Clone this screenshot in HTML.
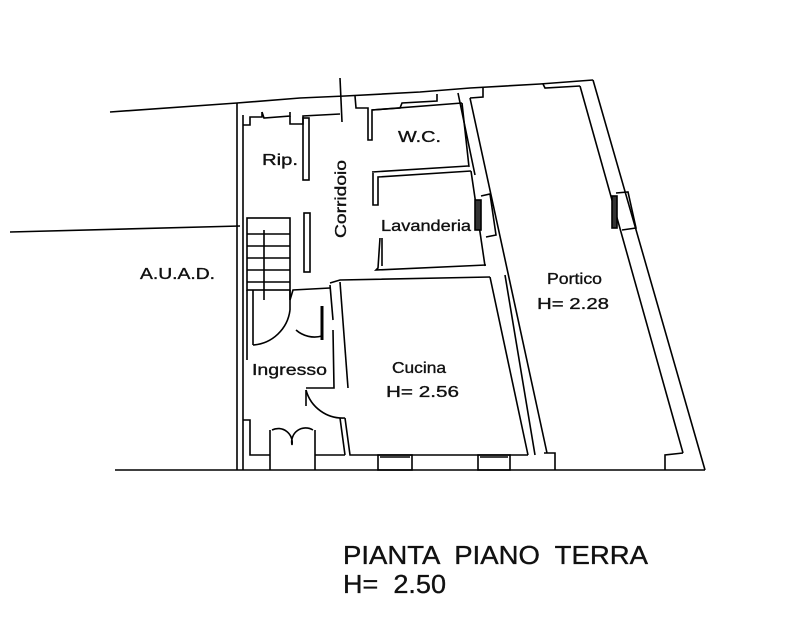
<!DOCTYPE html>
<html><head><meta charset="utf-8"><style>
html,body{margin:0;padding:0;background:#fff;}
svg{display:block;}
text{font-family:"Liberation Sans",Arial,sans-serif;fill:#111;stroke:#111;stroke-width:0.35;}
</style></head><body>
<svg width="811" height="632" viewBox="0 0 811 632" xmlns="http://www.w3.org/2000/svg">
<g fill="none" stroke="#000" stroke-width="1.6">
<line x1="110" y1="112" x2="237" y2="103"/>
<line x1="10" y1="232" x2="240" y2="226"/>
<line x1="115" y1="470" x2="705" y2="470"/>
<polyline points="237,103 300,98 345,96 420,92 470,88 540,84 593,80"/>
<line x1="340" y1="78" x2="342" y2="122"/>
<line x1="237" y1="103" x2="237" y2="470"/>
<line x1="243" y1="115" x2="243" y2="470"/>
<polyline points="243,125 250,125 250,117 262,117 262,112"/>
<polyline points="262,112 264,118 290,116 290,112"/>
<polyline points="290,116 290,124 303,124 303,116 340,114"/>
<rect x="303" y="118" width="6" height="62"/>
<rect x="304" y="213" width="6" height="59"/>
<polyline points="355,96 356,108 368,108 368,140 372,140 372,110 400,108 402,103 437,101 437,94"/>
<line x1="372" y1="110" x2="462" y2="103"/>
<line x1="462" y1="103" x2="469" y2="167"/>
<polyline points="372,172 468,166"/>
<polyline points="373,173 373,205 378,205 378,177 471,171"/>
<line x1="471" y1="171" x2="485" y2="266"/>
<polyline points="380,238 378,268 376,270 486,265"/>
<line x1="382" y1="238" x2="382" y2="266"/>
<rect x="475" y="200" width="6" height="30" fill="#333"/>
<polyline points="481,196 490,194 496,235 486,237"/>
<line x1="458" y1="93" x2="475" y2="175"/>
<line x1="470" y1="98" x2="547" y2="453"/>
<polyline points="470,98 483,97 483,88"/>
<polyline points="543,84 545,88 580,86"/>
<line x1="580" y1="86" x2="683" y2="453"/>
<line x1="593" y1="80" x2="705" y2="470"/>
<polyline points="544,453 555,453 555,470"/>
<polyline points="683,453 665,455 665,470"/>
<rect x="612" y="196" width="5" height="32" fill="#333"/>
<polyline points="616,193 628,192 636,228 622,230"/>
<line x1="490" y1="277" x2="528" y2="455"/>
<line x1="505" y1="275" x2="535" y2="455"/>
<polyline points="330,283 340,280 490,277"/>
<polyline points="340,282 348,388"/>
<polyline points="330,285 333,320"/>
<polyline points="333,330 334,388 306,388"/>
<line x1="306" y1="390" x2="306" y2="406"/>
<path d="M306,390 A38,38 0 0 0 345,418"/>
<polyline points="345,418 350,455 528,455"/>
<polyline points="340,418 345,455"/>
<rect x="378" y="455" width="34" height="15"/>
<line x1="380" y1="457" x2="410" y2="457"/>
<rect x="478" y="455" width="32" height="15"/>
<line x1="480" y1="457" x2="508" y2="457"/>
<rect x="247" y="218" width="43" height="72"/>
<line x1="247" y1="234" x2="290" y2="234"/>
<line x1="247" y1="246" x2="290" y2="246"/>
<line x1="247" y1="258" x2="290" y2="258"/>
<line x1="247" y1="270" x2="290" y2="270"/>
<line x1="247" y1="282" x2="290" y2="282"/>
<line x1="264" y1="230" x2="264" y2="300"/>
<line x1="247" y1="290" x2="247" y2="360"/>
<line x1="253" y1="290" x2="253" y2="345"/>
<path d="M253,345 A40,40 0 0 0 290,310"/>
<line x1="290" y1="290" x2="290" y2="310"/>
<polyline points="290,290 290,300 293,290 330,288"/>
<path d="M296,330 A28,28 0 0 0 322,336"/>
<line x1="322" y1="306" x2="322" y2="340" stroke-width="3"/>
<polyline points="243,420 250,420 250,455 270,455"/>
<polyline points="270,430 270,470"/>
<polyline points="315,430 315,470"/>
<path d="M272,430 A14,14 0 0 1 292,445 A14,14 0 0 1 313,430"/>
<polyline points="315,455 345,455"/>
</g>
<g font-size="16">
<text x="262" y="165" textLength="36" lengthAdjust="spacingAndGlyphs">Rip.</text>
<text x="398" y="142" textLength="43" lengthAdjust="spacingAndGlyphs">W.C.</text>
<text x="381" y="231" textLength="90" lengthAdjust="spacingAndGlyphs">Lavanderia</text>
<text transform="translate(346,238) rotate(-90)" textLength="78" lengthAdjust="spacingAndGlyphs">Corridoio</text>
<text x="140" y="279" textLength="75" lengthAdjust="spacingAndGlyphs">A.U.A.D.</text>
<text x="547" y="284" textLength="55" lengthAdjust="spacingAndGlyphs">Portico</text>
<text x="537" y="309" textLength="72" lengthAdjust="spacingAndGlyphs">H= 2.28</text>
<text x="252" y="375" textLength="75" lengthAdjust="spacingAndGlyphs">Ingresso</text>
<text x="392" y="373" textLength="54" lengthAdjust="spacingAndGlyphs">Cucina</text>
<text x="386" y="397" textLength="73" lengthAdjust="spacingAndGlyphs">H= 2.56</text>
</g>
<g font-size="26" style="stroke-width:0.1">
<text x="343" y="564" textLength="305" lengthAdjust="spacingAndGlyphs" xml:space="preserve">PIANTA  PIANO  TERRA</text>
<text x="343" y="593" textLength="103" lengthAdjust="spacingAndGlyphs" xml:space="preserve">H=  2.50</text>
</g>
</svg>
</body></html>
